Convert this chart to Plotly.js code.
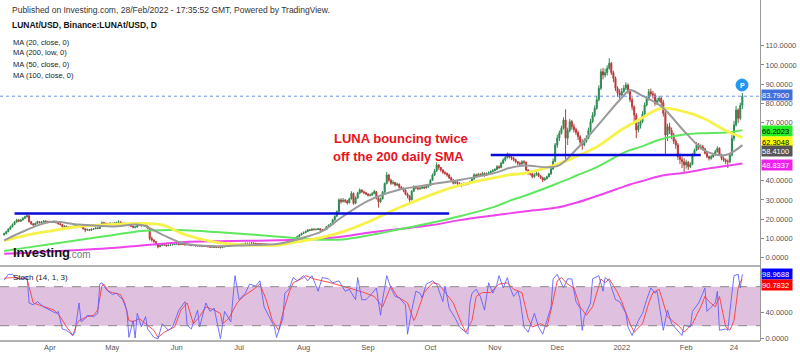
<!DOCTYPE html>
<html>
<head>
<meta charset="utf-8">
<script src="https://cdn.plot.ly/plotly-3.0.1.min.js"></script>
<style>html,body{margin:0;padding:0;background:#fff}</style>
</head>
<body>
<div id="chart" style="width:800px;height:357px"></div>
<script>
// ---------------- DATA ----------------
const startDate = [2021, 2, 10]; // first daily candle: 10 Mar 2021
const firstOpen = 11.8;

const closes = [
12.5,13.5,14.8,16.0,17.2,18.5,19.6,18.9,19.6,20.5,
21.2,21.8,18.7,17.6,17.0,17.8,18.7,18.2,18.5,19.0,
18.8,18.6,18.7,18.4,18.9,18.2,17.6,17.2,16.0,16.4,
15.9,15.6,15.8,16.2,16.8,16.5,16.5,16.0,15.0,14.4,
14.6,14.2,14.8,15.0,15.4,15.2,16.4,18.2,17.8,17.6,
17.5,17.9,17.4,18.0,18.2,18.6,17.9,17.5,17.8,17.5,
16.8,16.4,15.8,15.9,16.8,17.0,16.6,17.2,16.4,15.3,
10.0,9.2,8.3,6.8,5.7,6.4,6.9,6.6,6.2,6.5,
6.6,6.9,7.0,7.3,6.8,7.1,7.0,6.6,6.9,6.6,
6.3,6.5,6.1,6.2,6.0,5.8,6.0,5.9,5.7,5.5,
5.6,5.4,5.5,5.4,5.2,5.6,5.8,6.0,6.1,6.3,
6.5,6.4,6.6,6.9,7.0,7.2,7.5,7.4,7.5,7.6,
7.5,7.3,7.1,7.2,7.0,7.1,7.0,6.8,6.9,6.7,
6.6,6.5,6.8,6.7,7.1,7.5,7.8,8.2,8.8,9.2,
10.2,11.0,11.8,12.6,13.0,13.6,14.4,14.2,14.8,14.6,
14.7,15.0,14.4,14.2,14.6,16.0,16.8,17.5,19.6,21.5,
23.9,30.0,29.2,29.8,29.4,28.5,30.5,33.4,28.2,31.0,
33.5,35.1,34.2,33.7,33.0,32.4,32.5,33.2,34.3,31.0,
29.0,30.5,34.0,38.5,42.9,40.2,38.6,39.0,37.7,38.2,
36.5,36.0,35.1,33.0,32.0,30.0,34.5,36.8,36.2,35.8,
36.0,36.6,36.2,36.8,37.5,40.2,42.9,45.0,48.1,46.8,
45.5,44.2,43.8,42.9,41.5,40.2,38.6,39.2,38.5,38.0,
37.7,38.4,38.0,38.6,39.4,40.8,42.9,42.5,43.2,43.0,
43.8,42.8,43.6,44.0,44.6,45.2,45.8,47.2,46.8,49.0,
50.7,52.0,53.3,52.2,51.6,50.8,49.9,49.0,48.6,49.8,
49.5,45.5,44.0,43.5,42.0,43.0,43.8,42.4,41.5,40.3,
41.0,42.0,43.5,46.0,50.0,58.5,62.0,64.6,67.2,71.5,
62.0,66.0,70.6,68.0,66.5,65.0,62.8,60.0,58.5,60.5,
62.0,66.0,70.6,74.0,77.5,82.0,87.9,96.5,94.8,96.0,
98.3,100.9,96.0,93.1,87.9,85.5,84.4,86.2,87.9,89.6,
86.1,82.0,78.3,74.0,66.3,68.5,70.6,74.5,79.2,82.5,
86.1,85.0,84.4,80.1,81.5,82.7,80.5,74.9,63.7,68.0,
66.0,63.7,60.5,58.5,52.4,51.0,49.8,48.1,49.5,47.2,
48.5,53.3,55.8,58.5,57.0,57.6,56.5,54.2,52.5,51.6,
52.4,53.3,55.0,56.8,53.3,51.5,50.7,50.0,49.8,53.3,
62.0,68.9,76.6,72.3,79.0,83.79];

const highs = [
13.0,14.0,15.3,16.6,17.8,19.0,20.2,20.0,20.1,21.0,
21.8,22.9,22.0,19.0,18.0,18.3,19.2,19.0,19.0,19.5,
19.4,19.2,19.2,19.1,19.3,19.1,18.4,17.9,17.4,16.9,
16.6,16.2,16.2,16.6,17.2,17.1,16.9,16.8,16.3,15.3,
15.1,14.9,15.2,15.4,15.8,15.8,16.8,18.8,18.6,18.2,
18.0,18.3,18.1,18.4,18.7,19.4,18.8,18.1,18.2,18.0,
17.6,17.0,16.6,16.4,17.2,17.4,17.3,17.6,17.4,16.6,
15.5,11.0,9.6,8.6,7.2,6.9,7.4,7.2,6.9,6.9,
7.0,7.2,7.4,7.7,7.4,7.4,7.4,7.1,7.2,7.1,
6.7,6.8,6.6,6.4,6.4,6.2,6.2,6.2,6.0,5.9,
5.8,5.8,5.7,5.7,5.5,5.8,6.0,6.2,6.4,6.5,
6.8,6.8,6.8,7.1,7.3,7.5,7.8,7.8,7.8,8.0,
7.8,7.7,7.4,7.4,7.3,7.3,7.3,7.1,7.1,7.0,
6.9,6.8,7.0,7.0,7.3,7.8,8.1,8.5,9.1,9.6,
10.6,11.5,12.3,13.0,13.6,14.1,14.9,14.9,15.3,15.2,
15.2,15.4,15.2,14.8,15.0,16.4,17.3,18.0,20.2,22.0,
24.5,30.8,30.8,31.0,30.5,30.0,31.2,34.5,33.8,31.8,
34.2,36.0,35.5,34.8,34.2,33.5,33.3,34.0,35.2,34.6,
31.5,31.2,34.6,39.0,44.5,43.5,41.0,40.2,39.4,38.9,
38.5,37.2,36.5,35.6,33.8,32.5,35.0,37.6,37.4,36.8,
36.8,37.3,37.0,37.4,38.2,40.8,43.6,46.0,49.5,48.6,
47.2,46.0,45.0,44.2,43.5,42.0,40.8,40.0,39.8,39.2,
38.8,39.0,38.9,39.3,40.0,41.4,43.8,43.6,44.0,43.8,
44.6,44.2,44.2,44.8,45.4,46.0,46.4,48.0,47.9,49.8,
51.6,53.0,54.6,54.0,53.2,52.4,51.4,50.2,49.8,50.6,
50.6,50.0,46.0,44.8,44.0,43.8,44.6,44.2,43.0,42.0,
41.8,42.6,44.0,47.0,51.5,59.5,63.8,66.0,68.5,72.8,
77.0,67.5,72.0,71.5,69.5,67.5,66.0,63.6,61.5,62.0,
63.5,67.5,72.0,75.5,79.0,84.0,89.5,98.0,98.5,98.0,
99.8,103.5,101.5,97.0,94.0,89.0,87.5,88.0,89.5,91.0,
90.4,87.0,83.2,79.0,75.0,70.5,72.5,76.0,80.5,84.0,
87.5,87.8,86.5,85.5,83.0,84.0,83.5,81.8,76.0,69.5,
70.0,67.5,64.8,61.5,59.5,54.0,52.5,51.6,50.8,50.2,
49.5,54.2,56.6,60.0,59.6,58.8,58.5,57.0,55.0,53.0,
53.3,54.2,56.0,57.8,57.2,54.0,52.5,51.5,51.0,54.0,
64.0,71.0,78.8,77.5,80.5,85.5];

const lows = [
11.5,12.2,13.2,14.5,15.7,16.9,18.2,18.5,18.6,19.3,
20.1,20.8,18.2,17.0,16.5,16.8,17.6,17.8,17.9,18.2,
18.3,18.1,18.2,18.0,18.2,17.8,17.2,16.7,15.6,15.8,
15.4,15.2,15.2,15.6,16.0,16.1,16.0,15.6,14.6,13.2,
14.0,13.8,14.0,14.5,14.8,14.8,15.0,16.2,17.2,17.1,
17.0,17.3,17.0,17.2,17.7,18.0,17.6,17.1,17.2,17.1,
16.3,15.9,15.3,15.3,15.7,16.4,16.1,16.4,16.0,15.0,
9.0,8.4,7.8,6.3,4.9,5.5,6.2,6.2,5.8,6.0,
6.3,6.5,6.7,6.9,6.5,6.7,6.7,6.4,6.5,6.4,
6.0,6.1,5.9,5.9,5.8,5.6,5.7,5.6,5.4,5.2,
5.3,5.2,5.2,5.1,4.9,5.1,5.5,5.7,5.8,6.0,
6.2,6.2,6.3,6.5,6.8,6.9,7.1,7.1,7.2,7.3,
7.2,7.0,6.9,6.9,6.8,6.9,6.8,6.6,6.6,6.5,
6.3,6.2,6.4,6.4,6.6,7.0,7.3,7.7,8.1,8.6,
9.0,10.0,10.8,11.6,12.3,12.8,13.4,13.8,14.0,14.1,
14.2,14.4,14.0,13.8,14.0,14.4,15.8,16.6,17.3,19.3,
21.0,23.5,28.0,28.6,28.4,27.6,28.2,30.2,27.5,27.8,
30.6,33.0,33.6,33.0,32.5,31.8,31.8,32.2,33.0,30.2,
26.0,28.4,30.2,33.6,38.0,39.4,37.8,38.0,37.0,37.2,
35.8,35.2,34.0,32.4,30.8,28.5,29.8,34.2,35.5,35.0,
35.2,35.7,35.6,35.9,36.4,37.2,39.8,42.4,44.5,45.6,
44.6,43.5,43.0,42.0,40.8,39.5,38.0,38.2,37.6,37.3,
36.8,37.4,37.4,37.8,38.5,39.0,40.4,41.8,42.2,42.3,
42.6,42.0,42.4,43.2,43.6,44.4,44.8,45.4,46.0,46.4,
48.6,50.0,51.4,51.5,50.6,50.0,49.0,48.0,47.6,48.2,
48.4,45.0,43.0,42.6,41.2,41.5,42.6,41.8,40.8,39.2,
40.0,40.6,41.6,43.0,45.6,49.5,57.0,60.5,63.8,66.5,
50.0,58.5,65.0,66.4,65.0,63.6,61.0,58.6,56.0,57.8,
59.6,61.5,65.0,69.8,73.0,76.8,81.0,87.0,92.5,93.5,
94.5,97.5,94.8,91.0,86.5,83.5,82.5,83.8,85.5,87.0,
85.0,80.6,76.5,70.0,62.0,65.0,67.0,69.8,73.5,78.4,
81.5,83.6,82.5,78.8,79.2,80.5,78.6,73.2,53.8,60.5,
64.2,61.5,59.0,56.5,50.8,48.6,46.5,44.0,46.2,45.5,
46.5,48.0,52.6,55.2,56.0,56.2,55.5,53.6,51.6,50.4,
50.8,51.8,52.8,54.5,52.8,50.5,49.8,48.5,46.5,49.0,
52.5,60.5,68.0,70.0,71.5,77.0];

// moving averages (read at sample dates)
const maDates = ['2021-03-10','2021-03-20','2021-04-01','2021-04-15','2021-05-01','2021-05-15','2021-05-25','2021-06-05',
 '2021-06-20','2021-07-05','2021-07-20','2021-08-01','2021-08-10','2021-08-20','2021-09-01','2021-09-15','2021-10-01',
 '2021-10-15','2021-11-01','2021-11-08','2021-11-15','2021-12-01','2021-12-10','2021-12-20','2022-01-01','2022-01-05',
 '2022-01-10','2022-01-20','2022-02-01','2022-02-10','2022-02-20','2022-02-28'];
const ma20  = [9.0,14.0,18.5,17.2,16.2,17.0,12.0,7.2,6.0,6.5,7.2,10.5,13.8,21.5,29.5,35.0,38.0,40.3,44.0,46.5,47.8,47.5,56.0,68.0,83.0,87.0,84.5,78.5,64.5,55.5,53.3,58.41];
const ma50  = [8.8,11.5,13.8,16.2,17.3,17.8,17.0,12.0,8.0,6.6,6.6,8.8,10.5,13.5,18.5,25.5,32.5,37.5,41.5,43.0,43.8,48.5,52.5,57.5,66.5,69.0,72.0,77.5,75.5,72.0,66.0,62.3];
const ma100 = [3.5,5.1,7.0,9.2,11.7,13.9,14.3,14.2,13.3,12.2,10.9,9.8,9.3,9.5,11.5,14.5,18.0,21.5,26.5,29.5,32.0,38.5,42.5,47.0,54.0,55.8,57.5,61.5,64.0,64.6,64.9,66.2];
const ma200 = [2.0,2.5,3.2,4.0,5.0,6.4,7.2,8.2,8.6,8.8,9.0,9.4,10.0,11.0,13.0,14.8,16.8,19.5,22.0,23.0,24.0,26.0,28.5,32.0,36.5,38.0,39.5,42.5,44.2,46.0,47.6,48.83];

// stochastic (day index from first candle, value)
const stochK = [[0,90],[2,99],[4,99],[6,93],[8,92],[10,95],[11,96],[12,55],[14,52],[16,57],[19,49],[22,44],[25,39],[26,42],[28,15],[30,13],[33,5],[34,10],[36,55],[37,26],[39,31],[40,36],[43,34],[45,39],[46,84],[47,86],[49,76],[52,68],[54,70],[57,60],[59,44],[60,2],[62,28],[63,1],[64,39],[66,18],[68,34],[69,15],[72,2],[74,0],[76,23],[79,13],[81,18],[84,44],[87,57],[88,21],[90,15],[93,44],[94,18],[97,55],[99,42],[101,47],[104,0],[106,42],[109,26],[111,97],[113,60],[116,70],[118,84],[121,81],[123,89],[125,49],[128,31],[130,18],[131,2],[134,31],[135,70],[137,76],[139,94],[141,89],[144,97],[146,89],[148,97],[151,73],[153,94],[156,92],[158,86],[161,89],[164,73],[166,76],[169,60],[170,94],[172,60],[174,60],[177,70],[179,78],[181,36],[182,60],[184,97],[186,78],[188,65],[190,63],[193,52],[194,7],[196,44],[198,73],[200,70],[201,63],[203,84],[206,89],[208,84],[211,57],[212,81],[214,47],[217,31],[219,18],[222,10],[223,7],[224,55],[225,70],[227,76],[229,65],[231,44],[233,86],[235,70],[237,84],[238,97],[240,78],[242,94],[243,81],[245,65],[247,73],[248,63],[250,18],[252,10],[254,28],[255,39],[257,18],[259,7],[261,28],[263,49],[264,92],[266,99],[269,78],[271,92],[273,92],[275,57],[277,47],[278,13],[279,34],[282,55],[283,92],[286,97],[288,73],[289,94],[291,89],[294,60],[296,57],[299,39],[300,18],[302,5],[305,28],[307,39],[309,60],[311,78],[313,70],[314,73],[317,13],[319,44],[321,23],[324,13],[326,5],[327,21],[330,18],[331,42],[334,55],[336,70],[337,78],[338,42],[340,49],[342,55],[343,73],[344,13],[347,15],[348,13],[350,70],[351,97],[353,99],[354,78],[355,98.9688]];
const stochD = [[0,93],[4,94],[8,93],[11,92],[14,55],[19,49],[24,44],[27,34],[30,18],[32,10],[33,5],[35,23],[36,28],[40,34],[43,36],[45,44],[47,81],[48,84],[50,73],[52,71],[56,68],[58,55],[60,28],[62,26],[65,31],[68,23],[72,13],[74,2],[77,10],[80,15],[82,18],[85,44],[88,55],[91,23],[94,34],[97,49],[101,44],[104,39],[105,23],[108,31],[112,55],[115,65],[120,76],[123,84],[126,60],[129,28],[132,13],[134,39],[137,71],[139,86],[144,94],[145,97],[149,92],[157,86],[163,81],[168,76],[173,71],[178,65],[182,49],[186,81],[189,65],[190,63],[194,55],[197,28],[198,34],[202,71],[206,86],[209,84],[212,71],[216,55],[220,23],[222,10],[225,28],[227,65],[230,71],[234,71],[238,84],[242,86],[245,76],[249,71],[252,31],[254,18],[258,23],[261,18],[263,44],[266,89],[268,94],[271,84],[274,78],[277,49],[280,36],[283,49],[287,92],[289,86],[291,92],[295,71],[297,57],[301,23],[303,10],[307,23],[310,55],[312,71],[315,76],[319,34],[322,26],[325,18],[327,10],[331,23],[335,49],[337,65],[339,57],[342,49],[344,65],[347,18],[349,13],[351,28],[353,78],[354,88],[355,90.7832]];

// horizontal support lines drawn on the chart
const supportLines = [
  {from:'2021-03-15', to:'2021-10-10', level:22.9},
  {from:'2021-10-30', to:'2022-02-08', level:53.3}
];
const lastPrice = 83.79;
const maLabels = [
  {value:83.79,   bg:'#3f6fd8', fg:'#fff', shift:1},
  {value:66.2023, bg:'#22ee22', fg:'#000', shift:-0.5},
  {value:62.3048, bg:'#ffff00', fg:'#000', shift:-4},
  {value:58.41,   bg:'#555555', fg:'#fff', shift:-6},
  {value:48.8337, bg:'#ee22ee', fg:'#fff', shift:-1.5}
];
const stochLabels = [
  {value:98.9688, bg:'#0000ff', fg:'#fff', shift:0},
  {value:90.7832, bg:'#ff0000', fg:'#fff', shift:-5}
];
const xTickVals = ['2021-04-01','2021-05-01','2021-06-01','2021-07-01','2021-08-01','2021-09-01','2021-10-01','2021-11-01','2021-12-01','2022-01-01','2022-02-01','2022-02-24'];
const xTickText = ['Apr','May','Jun','Jul','Aug','Sep','Oct','Nov','Dec','2022','Feb','24'];
// 50 and 60 are hidden behind the value boxes in the reference
const yTicks = [0,10,20,30,40,70,80,90,100,110];
const stochTicks = [0,40];
const maLegend = ['MA (20, close, 0)','MA (200, low, 0)','MA (50, close, 0)','MA (100, close, 0)'];

// ---------------- BUILD ----------------
function dayDate(i){
  const t = Date.UTC(startDate[0], startDate[1], startDate[2]) + i*86400000;
  return new Date(t).toISOString().slice(0,10);
}
const dates = closes.map((c,i)=>dayDate(i));
const opens = closes.map((c,i)=> i===0 ? firstOpen : closes[i-1]);

const W = 760, H = 341;
const px = x => x / W;
const py = y => 1 - y / H;
const split = 1 - 266 / H;

const traces = [
  {type:'candlestick', x:dates, open:opens, high:highs, low:lows, close:closes,
   xaxis:'x', yaxis:'y', hoverinfo:'skip',
   increasing:{line:{color:'#2f8a52', width:1}, fillcolor:'#21904c'},
   decreasing:{line:{color:'#b93a3a', width:1}, fillcolor:'#cc2b2b'}},
  {type:'scatter', mode:'lines', x:maDates, y:ma200, line:{color:'#ee44ee', width:2, shape:'spline'}, hoverinfo:'skip'},
  {type:'scatter', mode:'lines', x:maDates, y:ma100, line:{color:'#5fe85f', width:2, shape:'spline'}, hoverinfo:'skip'},
  {type:'scatter', mode:'lines', x:maDates, y:ma50, line:{color:'#f7f24a', width:2.8, shape:'spline'}, hoverinfo:'skip'},
  {type:'scatter', mode:'lines', x:maDates, y:ma20, line:{color:'#9a9a9a', width:2, shape:'spline'}, hoverinfo:'skip'},
  {type:'scatter', mode:'lines', x:stochD.map(p=>dayDate(p[0])), y:stochD.map(p=>p[1]), yaxis:'y2',
   line:{color:'rgba(255,60,60,0.9)', width:1}, hoverinfo:'skip'},
  {type:'scatter', mode:'lines', x:stochK.map(p=>dayDate(p[0])), y:stochK.map(p=>p[1]), yaxis:'y2',
   line:{color:'rgba(90,90,255,0.85)', width:1}, hoverinfo:'skip'}
];

const shapes = [
  {type:'rect', xref:'paper', yref:'y2', x0:0, x1:1, y0:20, y1:80, fillcolor:'#dfc1df', line:{width:0}, layer:'below'},
  {type:'line', xref:'paper', yref:'y2', x0:0, x1:1, y0:80, y1:80, line:{color:'#888', width:1, dash:'dash'}},
  {type:'line', xref:'paper', yref:'y2', x0:0, x1:1, y0:20, y1:20, line:{color:'#888', width:1, dash:'dash'}},
  {type:'line', xref:'paper', yref:'paper', x0:0, x1:1, y0:split, y1:split, line:{color:'#9a9a9a', width:1.5}},
  {type:'line', xref:'paper', yref:'paper', x0:0, x1:1, y0:0, y1:0, line:{color:'#9a9a9a', width:1.5}},
  {type:'line', xref:'paper', yref:'y', x0:0, x1:1, y0:lastPrice, y1:lastPrice, line:{color:'#6f8fe8', width:1, dash:'dot'}},
  {type:'circle', xref:'paper', yref:'paper', x0:px(736), x1:px(748), y0:py(91), y1:py(79), fillcolor:'#2196f3', line:{color:'#2196f3', width:1}}
];
supportLines.forEach(s=>shapes.push({type:'line', xref:'x', yref:'y', x0:s.from, x1:s.to, y0:s.level, y1:s.level,
  line:{color:'#0a0ad8', width:2.5}, layer:'above'}));

const FONT = 'Arial, "Liberation Sans", sans-serif';
const annotations = [
  {xref:'paper', yref:'paper', x:px(10), y:py(10), xanchor:'left', yanchor:'middle', showarrow:false,
   text:'Published on Investing.com, 28/Feb/2022 - 17:35:52 GMT, Powered by TradingView.', font:{size:8.5, color:'#333', family:FONT}},
  {xref:'paper', yref:'paper', x:px(10), y:py(25), xanchor:'left', yanchor:'middle', showarrow:false,
   text:'<b>LUNAt/USD, Binance:LUNAt/USD, D</b>', font:{size:8.5, color:'#111', family:FONT}},
  {xref:'paper', yref:'paper', x:px(332), y:py(138), xanchor:'left', yanchor:'middle', showarrow:false,
   text:'<b>LUNA bouncing twice</b>', font:{size:13, color:'#e8131c', family:FONT}},
  {xref:'paper', yref:'paper', x:px(331), y:py(156), xanchor:'left', yanchor:'middle', showarrow:false,
   text:'<b>off the 200 daily SMA</b>', font:{size:13, color:'#e8131c', family:FONT}},
  {xref:'paper', yref:'paper', x:px(11), y:py(252), xanchor:'left', yanchor:'middle', showarrow:false,
   text:'<b>Investing</b>', font:{size:13, color:'#111', family:FONT}},
  {xref:'paper', yref:'paper', x:px(66.5), y:py(254), xanchor:'left', yanchor:'middle', showarrow:false,
   text:'.com', font:{size:10, color:'#777', family:FONT}},
  {xref:'paper', yref:'paper', x:px(11), y:py(277), xanchor:'left', yanchor:'middle', showarrow:false,
   text:'Stoch (14, 1, 3)', font:{size:8, color:'#222', family:FONT}},
  {xref:'paper', yref:'paper', x:px(742), y:py(85), xanchor:'center', yanchor:'middle', showarrow:false,
   text:'<b>P</b>', font:{size:7, color:'#fff', family:FONT}}
];
const legendY = [42, 53, 64, 75];
maLegend.forEach((t,k)=>annotations.push({xref:'paper', yref:'paper', x:px(11), y:py(legendY[k]), xanchor:'left', yanchor:'middle',
  showarrow:false, text:t, font:{size:7.5, color:'#222', family:FONT}}));
maLabels.forEach(l=>annotations.push({xref:'paper', yref:'y', x:px(761), y:l.value, yshift:l.shift, xanchor:'left', yanchor:'middle',
  showarrow:false, text:l.value.toFixed(4), bgcolor:l.bg, borderpad:0, width:30, height:10, align:'left', font:{size:7.5, color:l.fg, family:FONT}}));
stochLabels.forEach(l=>annotations.push({xref:'paper', yref:'y2', x:px(761), y:l.value, yshift:l.shift, xanchor:'left', yanchor:'middle',
  showarrow:false, text:l.value.toFixed(4), bgcolor:l.bg, borderpad:0, width:30, height:10, align:'left', font:{size:7.5, color:l.fg, family:FONT}}));

const layout = {
  width:800, height:357, margin:{l:0, r:40, t:0, b:16, pad:0},
  paper_bgcolor:'#fff', plot_bgcolor:'#fff', showlegend:false,
  font:{family:FONT, color:'#444'},
  xaxis:{type:'date', range:['2021-03-08','2022-03-08 12:00'], anchor:'y2', tickmode:'array', tickvals:xTickVals, ticktext:xTickText,
    showgrid:false, zeroline:false, showline:false, ticks:'', tickfont:{size:7.5, color:'#555'}, rangeslider:{visible:false}, fixedrange:true},
  yaxis:{domain:[split,1], side:'right', range:[-4.3,133.7], tickmode:'array', tickvals:yTicks, tickformat:'.4f',
    ticks:'outside', ticklen:3, tickcolor:'#888', showline:true, linecolor:'#999', linewidth:1, showgrid:false, zeroline:false,
    tickfont:{size:7.5, color:'#555'}, fixedrange:true},
  yaxis2:{domain:[0,split], side:'right', range:[-3.5,111.8], tickmode:'array', tickvals:stochTicks, tickformat:'.4f', anchor:'x',
    ticks:'outside', ticklen:3, tickcolor:'#888', showline:true, linecolor:'#999', linewidth:1, showgrid:false, zeroline:false,
    tickfont:{size:7.5, color:'#555'}, fixedrange:true},
  shapes:shapes, annotations:annotations
};

Plotly.newPlot('chart', traces, layout, {staticPlot:true, displayModeBar:false});
</script>
</body>
</html>
